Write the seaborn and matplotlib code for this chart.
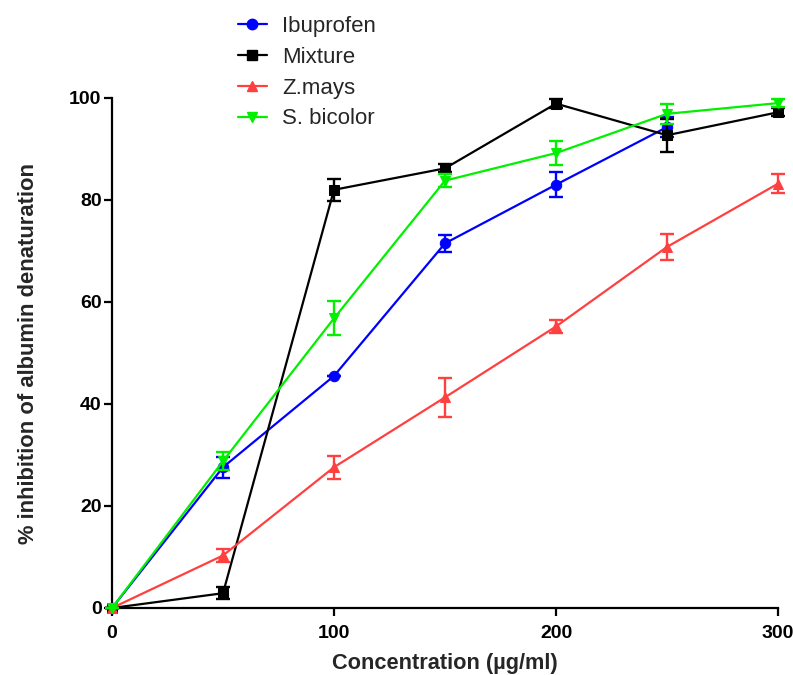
import matplotlib
matplotlib.use("Agg")
import matplotlib.pyplot as plt
import seaborn as sns
import pandas as pd
from matplotlib.lines import Line2D

# ---- data ----
conc = [0, 50, 100, 150, 200, 250, 300]
ibu_x = [0, 50, 100, 150, 200, 250]
ibu_y = [0, 27.6, 45.5, 71.5, 83.0, 94.3]
ibu_e = [0, 2.1, 0.0, 1.6, 2.4, 2.0]
mix_y = [0, 2.9, 82.0, 86.2, 98.9, 92.7, 97.2]
mix_e = [0, 1.2, 2.2, 0.8, 0.9, 3.2, 0.8]
zm_y = [0, 10.3, 27.6, 41.3, 55.2, 70.8, 83.2]
zm_e = [0, 1.3, 2.3, 3.8, 1.2, 2.5, 1.8]
sb_y = [0, 28.8, 56.8, 83.8, 89.2, 96.9, 99.0]
sb_e = [0, 1.7, 3.3, 1.3, 2.3, 2.0, 0.8]

series_names = ["Ibuprofen", "Mixture", "Z.mays", "S. bicolor"]
colors = ["#0000FF", "#000000", "#FF4040", "#00F000"]
markers = ["o", "s", "^", "v"]
xs = [ibu_x, conc, conc, conc]
ys = [ibu_y, mix_y, zm_y, sb_y]
es = [ibu_e, mix_e, zm_e, sb_e]

sns.set_style("ticks")
plt.rcParams["font.family"] = ["Liberation Sans", "DejaVu Sans"]

fig = plt.figure(figsize=(7.93, 6.75), dpi=100)
ax = fig.add_axes([112 / 793, 1 - 608 / 675, (778 - 112) / 793, (608 - 98) / 675])

handles = []
for name, c, m, x, y, e in zip(series_names, colors, markers, xs, ys, es):
    df = pd.DataFrame({"x": x, "y": y})
    sns.lineplot(data=df, x="x", y="y", ax=ax, color=c, marker=m,
                 markersize=7.5, markeredgecolor=c, linewidth=1.6,
                 clip_on=False, legend=False, zorder=3)
    ax.errorbar(x, y, yerr=e, fmt="none", ecolor=c, elinewidth=1.7,
                capsize=4.7, capthick=1.7, clip_on=False, zorder=3)
    handles.append(Line2D([], [], color=c, marker=m, markersize=7.5,
                          linewidth=1.6, markeredgecolor=c))

ax.set_xlim(0, 300)
ax.set_ylim(0, 100)
ax.set_xticks([0, 100, 200, 300])
ax.set_yticks([0, 20, 40, 60, 80, 100])
for side in ["top", "right"]:
    ax.spines[side].set_visible(False)
for side in ["left", "bottom"]:
    ax.spines[side].set_linewidth(1.6)
    ax.spines[side].set_color("black")
ax.tick_params(axis="both", direction="out", length=6, width=1.6,
               labelsize=14, colors="black")
ax.tick_params(axis="y", pad=1.5)
ax.tick_params(axis="x", pad=6.5)
for lab in ax.get_xticklabels() + ax.get_yticklabels():
    lab.set_fontweight("bold")

ax.set_xlabel("Concentration (\u00b5g/ml)", fontsize=15.7, fontweight="bold", labelpad=8)
ax.set_ylabel("% inhibition of albumin denaturation", fontsize=15.8, fontweight="bold", labelpad=22)

fig.legend(handles, series_names, loc="upper left",
           bbox_to_anchor=(238 / 793, 1 - 16 / 675), frameon=False,
           fontsize=16, handlelength=1.3, handletextpad=0.7,
           labelspacing=0.44, borderpad=0, borderaxespad=0)

fig.savefig("out.png", dpi=100)
